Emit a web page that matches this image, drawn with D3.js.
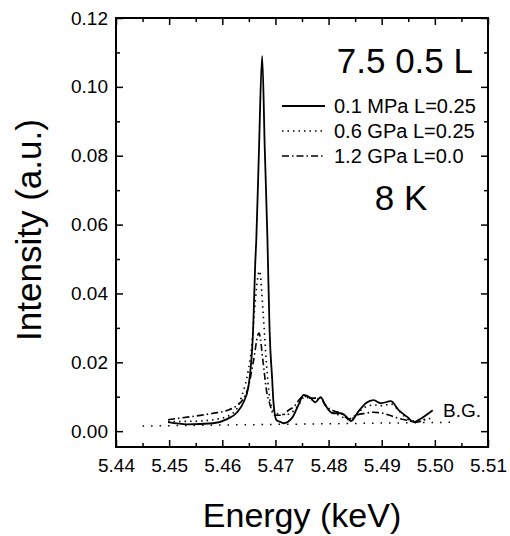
<!DOCTYPE html>
<html>
<head>
<meta charset="utf-8">
<script src="https://cdn.jsdelivr.net/npm/d3@7"></script>
<style>
  html, body { margin: 0; padding: 0; background: #fff; }
  svg { display: block; font-family: "Liberation Sans", Arial, sans-serif; }
</style>
</head>
<body>
<svg id="chart" width="510" height="536"></svg>
<script>
// ---- data ----
const xTicks = [5.44, 5.45, 5.46, 5.47, 5.48, 5.49, 5.50, 5.51];
const yTicks = [0.00, 0.02, 0.04, 0.06, 0.08, 0.10, 0.12];

const solidE = [5.4498, 5.4534, 5.4583, 5.4609, 5.4628, 5.4640, 5.4649, 5.4658, 5.4662, 5.4664, 5.4669, 5.4675, 5.4680, 5.4685, 5.4686, 5.4689, 5.4694, 5.4696, 5.4702, 5.4711, 5.4715, 5.4732, 5.4743, 5.4753, 5.4766, 5.4775, 5.4785, 5.4794, 5.4808, 5.4823, 5.4836, 5.4842, 5.4855, 5.4866, 5.4870, 5.4885, 5.4898, 5.4917, 5.4932, 5.4949, 5.4960, 5.4977, 5.4996];
const solidI = [0.0026, 0.0020, 0.0023, 0.0035, 0.0055, 0.0084, 0.0128, 0.0293, 0.0488, 0.0555, 0.0816, 0.1090, 0.0816, 0.0555, 0.0488, 0.0293, 0.0148, 0.0090, 0.0032, 0.0026, 0.0023, 0.0040, 0.0075, 0.0105, 0.0096, 0.0084, 0.0099, 0.0075, 0.0052, 0.0052, 0.0038, 0.0029, 0.0055, 0.0075, 0.0081, 0.0090, 0.0081, 0.0087, 0.0061, 0.0040, 0.0026, 0.0040, 0.0061];

const dotE = [5.4498, 5.4550, 5.4600, 5.4625, 5.4636, 5.4649, 5.4655, 5.4660, 5.4670, 5.4677, 5.4683, 5.4689, 5.4696, 5.4706, 5.4720, 5.4735, 5.4745, 5.4755, 5.4770, 5.4785, 5.4800, 5.4820, 5.4838, 5.4852, 5.4866, 5.4885, 5.4900, 5.4917, 5.4935, 5.4955, 5.4970, 5.4996];
const dotI = [0.0028, 0.0029, 0.0038, 0.0060, 0.0099, 0.0177, 0.0240, 0.0340, 0.0465, 0.0340, 0.0198, 0.0099, 0.0060, 0.0050, 0.0048, 0.0060, 0.0080, 0.0100, 0.0090, 0.0095, 0.0062, 0.0046, 0.0034, 0.0045, 0.0068, 0.0076, 0.0074, 0.0079, 0.0055, 0.0030, 0.0032, 0.0038];

const dashE = [5.4498, 5.4521, 5.4583, 5.4609, 5.4628, 5.4640, 5.4649, 5.4658, 5.4669, 5.4677, 5.4683, 5.4689, 5.4698, 5.4713, 5.4724, 5.4734, 5.4753, 5.4766, 5.4785, 5.4794, 5.4808, 5.4823, 5.4838, 5.4851, 5.4870, 5.4883, 5.4902, 5.4926, 5.4955, 5.4964, 5.4987];
const dashI = [0.0033, 0.0038, 0.0052, 0.0060, 0.0075, 0.0095, 0.0128, 0.0198, 0.0285, 0.0198, 0.0120, 0.0081, 0.0046, 0.0046, 0.0060, 0.0070, 0.0102, 0.0096, 0.0096, 0.0075, 0.0060, 0.0052, 0.0035, 0.0046, 0.0052, 0.0055, 0.0052, 0.0040, 0.0029, 0.0026, 0.0038];

const bgE = [5.445, 5.504];
const bgI = [0.0015, 0.0026];

const seriesNames = ["0.1 MPa L=0.25", "0.6 GPa L=0.25", "1.2 GPa L=0.0"];

// ---- layout ----
const svg = d3.select("#chart");
const mLeft = 116, mRight = 488, mTop = 18, mBottom = 447;

const x = d3.scaleLinear().domain([5.44, 5.51]).range([mLeft, mRight]);
const y = d3.scaleLinear().domain([-0.0046, 0.12]).range([mBottom, mTop]);

const xMinor = d3.range(5.445, 5.51, 0.01);
const yMinor = d3.range(0.01, 0.12, 0.02);

// axes (ticks inward)
function styleAxis(g) {
  g.select(".domain").remove();
  g.selectAll("line").attr("stroke", "#000").attr("stroke-width", 1.5);
  g.selectAll("text").attr("font-size", 19).attr("fill", "#000")
    .attr("font-family", "Liberation Sans, Arial, sans-serif");
}
svg.append("g").attr("transform", `translate(0,${mBottom})`)
  .call(d3.axisBottom(x).tickValues(xTicks).tickSize(-7).tickPadding(12).tickFormat(d3.format(".2f")))
  .call(styleAxis);
svg.append("g").attr("transform", `translate(0,${mBottom})`)
  .call(d3.axisBottom(x).tickValues(xMinor).tickSize(-4).tickFormat(""))
  .call(styleAxis);
svg.append("g").attr("transform", `translate(0,${mTop})`)
  .call(d3.axisTop(x).tickValues(xTicks).tickSize(-7).tickFormat(""))
  .call(styleAxis);
svg.append("g").attr("transform", `translate(0,${mTop})`)
  .call(d3.axisTop(x).tickValues(xMinor).tickSize(-4).tickFormat(""))
  .call(styleAxis);
svg.append("g").attr("transform", `translate(${mLeft},0)`)
  .call(d3.axisLeft(y).tickValues(yTicks).tickSize(-7).tickPadding(8).tickFormat(d3.format(".2f")))
  .call(styleAxis);
svg.append("g").attr("transform", `translate(${mLeft},0)`)
  .call(d3.axisLeft(y).tickValues(yMinor).tickSize(-4).tickFormat(""))
  .call(styleAxis);
svg.append("g").attr("transform", `translate(${mRight},0)`)
  .call(d3.axisRight(y).tickValues(yTicks).tickSize(-7).tickFormat(""))
  .call(styleAxis);
svg.append("g").attr("transform", `translate(${mRight},0)`)
  .call(d3.axisRight(y).tickValues(yMinor).tickSize(-4).tickFormat(""))
  .call(styleAxis);

// frame
svg.append("rect").attr("x", mLeft).attr("y", mTop)
  .attr("width", mRight - mLeft).attr("height", mBottom - mTop)
  .attr("fill", "none").attr("stroke", "#000").attr("stroke-width", 2);

// curves
const line = d3.line().x(d => x(d[0])).y(d => y(d[1])).curve(d3.curveMonotoneX);
const zip = (a, b) => a.map((v, i) => [v, b[i]]);

svg.append("path").datum(zip(bgE, bgI)).attr("d", d3.line().x(d => x(d[0])).y(d => y(d[1])))
  .attr("fill", "none").attr("stroke", "#000").attr("stroke-width", 1.5)
  .attr("stroke-dasharray", "1.5,7");

const styles = [
  { dash: null, w: 1.8 },
  { dash: "1.5,4", w: 1.6 },
  { dash: "7,3,1.5,3", w: 1.6 }
];
const series = [zip(solidE, solidI), zip(dotE, dotI), zip(dashE, dashI)];
series.forEach((s, i) => {
  const p = svg.append("path").datum(s).attr("d", line)
    .attr("fill", "none").attr("stroke", "#000").attr("stroke-width", styles[i].w)
    .attr("stroke-linejoin", "round");
  if (styles[i].dash) p.attr("stroke-dasharray", styles[i].dash);
});

// legend
const legY = [106, 131, 156];
seriesNames.forEach((n, i) => {
  const l = svg.append("line").attr("x1", 282).attr("x2", 325)
    .attr("y1", legY[i]).attr("y2", legY[i])
    .attr("stroke", "#000").attr("stroke-width", styles[i].w);
  if (styles[i].dash) l.attr("stroke-dasharray", styles[i].dash);
  svg.append("text").attr("x", 334).attr("y", legY[i] + 7)
    .attr("font-size", 20).text(n);
});

// annotations
svg.append("text").attr("x", 473).attr("y", 73).attr("text-anchor", "end")
  .attr("font-size", 35).text("7.5 0.5 L");
svg.append("text").attr("x", 401).attr("y", 210).attr("text-anchor", "middle")
  .attr("font-size", 35).text("8 K");
svg.append("text").attr("x", 443).attr("y", 417).attr("font-size", 19).text("B.G.");

// axis titles
svg.append("text").attr("x", 302).attr("y", 527).attr("text-anchor", "middle")
  .attr("font-size", 34).text("Energy (keV)");
svg.append("text").attr("transform", "translate(41,230) rotate(-90)")
  .attr("text-anchor", "middle").attr("font-size", 35).text("Intensity (a.u.)");
</script>
</body>
</html>
